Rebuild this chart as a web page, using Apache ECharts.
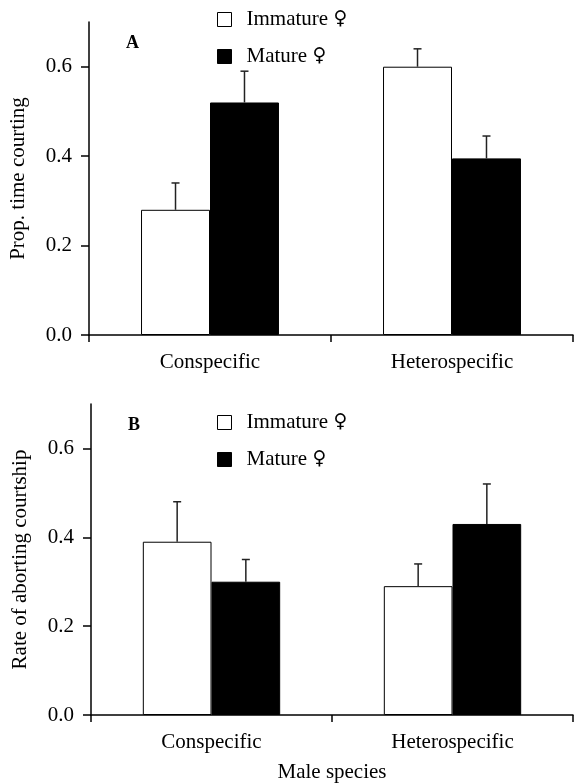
<!DOCTYPE html>
<html>
<head>
<meta charset="utf-8">
<script src="https://cdn.jsdelivr.net/npm/echarts@6/dist/echarts.min.js"></script>
<style>
    html, body {margin: 0; padding: 0; background: #fff;}
    #chart {width: 576px; height: 784px;}
</style>
</head>
<body>
<div id="chart"></div>
<script>
// data
var categories = ['Conspecific', 'Heterospecific'];
var seriesNames = ['Immature ♀', 'Mature ♀'];
var yTicks = [0, 0.2, 0.4, 0.6];

// panel A: proportion of time courting
var courtImmature = [0.28, 0.60];
var courtImmatureUpper = [0.34, 0.64];
var courtMature = [0.52, 0.395];
var courtMatureUpper = [0.59, 0.445];

// panel B: rate of aborting courtship
var abortImmature = [0.39, 0.29];
var abortImmatureUpper = [0.48, 0.34];
var abortMature = [0.30, 0.43];
var abortMatureUpper = [0.35, 0.52];

var font = 'Liberation Serif';
var gapRatio = 0.43; // barCategoryGap

function errData(means, uppers) {
    return means.map(function (m, i) {
        return [i, m, uppers[i]];
    });
}

// error bar drawn from the bar top up to the upper value
function errRender(side) {
    return function (params, api) {
        var idx = api.value(0);
        var p0 = api.coord([idx, api.value(1)]);
        var p1 = api.coord([idx, api.value(2)]);
        var band = api.size([1, 0])[0];
        var x = p0[0] + side * band * (1 - gapRatio) / 4;
        var cap = 4;
        var st = {stroke: '#222', lineWidth: 1.5};
        return {
            type: 'group',
            children: [
                {type: 'line', shape: {x1: x, y1: p0[1], x2: x, y2: p1[1]}, style: st},
                {type: 'line', shape: {x1: x - cap, y1: p1[1], x2: x + cap, y2: p1[1]}, style: st}
            ]
        };
    };
}

function xAxisOf(gridIndex, withName) {
    var ax = {
        type: 'category',
        gridIndex: gridIndex,
        data: categories,
        axisLine: {lineStyle: {color: '#000', width: 1.5}},
        axisTick: {show: true, inside: false, length: 7, alignWithLabel: false, interval: 0,
            lineStyle: {color: '#000', width: 1.5}},
        axisLabel: {color: '#000', fontFamily: font, fontSize: 21, margin: 17},
        splitLine: {show: false}
    };
    if (withName) {
        ax.name = 'Male species';
        ax.nameLocation = 'middle';
        ax.nameGap = 47;
        ax.nameTextStyle = {color: '#000', fontFamily: font, fontSize: 21};
    }
    return ax;
}

function yAxisOf(gridIndex, name) {
    return {
        type: 'value',
        gridIndex: gridIndex,
        min: 0,
        max: 0.7,
        interval: 0.2,
        name: name,
        nameLocation: 'middle',
        nameRotate: 90,
        nameGap: 60,
        nameTextStyle: {color: '#000', fontFamily: font, fontSize: 21},
        axisLine: {show: true, lineStyle: {color: '#000', width: 1.5}},
        axisTick: {show: true, length: 8, customValues: yTicks, lineStyle: {color: '#000', width: 1.5}},
        axisLabel: {
            color: '#000', fontFamily: font, fontSize: 21, margin: 17,
            customValues: yTicks,
            formatter: function (v) { return v.toFixed(1); }
        },
        splitLine: {show: false}
    };
}

function barSeries(name, axisIdx, values, white) {
    return {
        name: name,
        type: 'bar',
        xAxisIndex: axisIdx,
        yAxisIndex: axisIdx,
        data: values,
        barGap: '0%',
        barCategoryGap: (gapRatio * 100) + '%',
        itemStyle: {color: white ? '#fff' : '#000', borderColor: '#000', borderWidth: 1}
    };
}

function errSeries(axisIdx, means, uppers, side) {
    return {
        type: 'custom',
        xAxisIndex: axisIdx,
        yAxisIndex: axisIdx,
        data: errData(means, uppers),
        encode: {x: 0, y: 1},
        renderItem: errRender(side),
        z: 5,
        silent: true
    };
}

function legendOf(top) {
    return {
        orient: 'vertical',
        left: 212,
        top: top,
        itemWidth: 14,
        itemHeight: 14,
        itemGap: 16,
        icon: 'rect',
        itemStyle: {borderColor: '#000', borderWidth: 1},
        // the ♀ sign is set in DejaVu Sans so it comes out at full size
        formatter: function (name) {
            var parts = name.split(' ');
            return '{t|' + parts[0] + '} {s|' + parts[1] + '}';
        },
        textStyle: {
            color: '#000', fontFamily: font, fontSize: 21, padding: [0, 0, 0, 10],
            rich: {
                t: {color: '#000', fontFamily: font, fontSize: 21},
                s: {color: '#000', fontFamily: 'DejaVu Sans', fontSize: 19}
            }
        },
        data: seriesNames
    };
}

var myChart = echarts.init(document.getElementById('chart'));

option = {
    backgroundColor: '#fff',
    animation: false,
    title: [
        {text: 'A', left: 121, top: 29, textStyle: {fontFamily: font, fontSize: 18, fontWeight: 'bold', color: '#000'}},
        {text: 'B', left: 123, top: 411, textStyle: {fontFamily: font, fontSize: 18, fontWeight: 'bold', color: '#000'}}
    ],
    legend: [legendOf(4), legendOf(407)],
    grid: [
        {left: 89, right: 3, top: 22, bottom: 449},
        {left: 91, right: 3, top: 404, bottom: 67}
    ],
    xAxis: [xAxisOf(0, false), xAxisOf(1, true)],
    yAxis: [yAxisOf(0, 'Prop. time courting'), yAxisOf(1, 'Rate of aborting courtship')],
    series: [
        barSeries(seriesNames[0], 0, courtImmature, true),
        barSeries(seriesNames[1], 0, courtMature, false),
        errSeries(0, courtImmature, courtImmatureUpper, -1),
        errSeries(0, courtMature, courtMatureUpper, 1),
        barSeries(seriesNames[0], 1, abortImmature, true),
        barSeries(seriesNames[1], 1, abortMature, false),
        errSeries(1, abortImmature, abortImmatureUpper, -1),
        errSeries(1, abortMature, abortMatureUpper, 1)
    ],
    graphic: [
        // the top of panel A's legend is cropped in the original figure
        {type: 'rect', left: 200, top: 0, shape: {width: 200, height: 10}, style: {fill: '#fff'}, z: 100}
    ]
};

myChart.setOption(option);
</script>
</body>
</html>
